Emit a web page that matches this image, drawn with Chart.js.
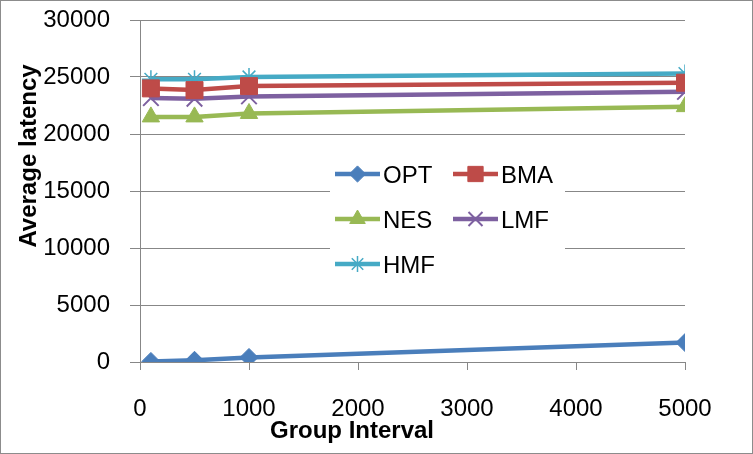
<!DOCTYPE html>
<html>
<head>
<meta charset="utf-8">
<script src="https://cdn.jsdelivr.net/npm/chart.js@4/dist/chart.umd.min.js"></script>
<style>
  html,body{margin:0;padding:0;background:#fff;}
  #wrap{position:relative;width:753px;height:454px;}
</style>
</head>
<body>
<div id="wrap"><canvas id="chart"></canvas></div>
<script>
/* ===== Data ===== */
const groupIntervals = [100, 500, 1000, 5000];
const seriesNames = ['OPT', 'BMA', 'NES', 'LMF', 'HMF'];
const optLatency = [50, 150, 400, 1700];
const bmaLatency = [24000, 23850, 24200, 24500];
const nesLatency = [21500, 21500, 21800, 22400];
const lmfLatency = [23150, 23100, 23300, 23700];
const hmfLatency = [24800, 24800, 25000, 25300];
const xTicks = [0, 1000, 2000, 3000, 4000, 5000];
const yTicks = [0, 5000, 10000, 15000, 20000, 25000, 30000];

/* ===== Style ===== */
const FONT = '"Liberation Sans", Arial, sans-serif';
const GRID = '#878787';
const styles = {
  OPT:{color:'#4a7ebb', point:'rectRot', r:9,  bw:1},
  BMA:{color:'#be4b48', point:'rect',    r:12, bw:1},
  NES:{color:'#98b954', point:'triangle',r:10, bw:1},
  LMF:{color:'#7d60a0', point:'crossRot',r:11, bw:2},
  HMF:{color:'#46aac5', point:'star',    r:9,  bw:1.5}
};
const values = {OPT:optLatency, BMA:bmaLatency, NES:nesLatency, LMF:lmfLatency, HMF:hmfLatency};

function toPoints(arr){ return groupIntervals.map((x,i)=>({x, y:arr[i]})); }

const datasets = seriesNames.map(n=>{
  const s = styles[n];
  return {
    label:n, data:toPoints(values[n]),
    borderColor:s.color, backgroundColor:s.color,
    borderWidth:4.5,
    pointStyle:s.point, pointRadius:s.r, pointHoverRadius:s.r,
    pointBorderWidth:s.bw, pointBackgroundColor:s.color, pointBorderColor:s.color,
    tension:0
  };
});

/* ===== Plugins: frame, axis titles, legend box ===== */
const frame = {
  id:'frame',
  beforeDraw(chart){
    const c = chart.ctx;
    c.save();
    c.fillStyle='#fff'; c.fillRect(0,0,chart.width,chart.height);
    c.strokeStyle='#8c8c8c'; c.lineWidth=1;
    c.strokeRect(0.5,0.5,chart.width-1,chart.height-1);
    c.restore();
  },
  afterDraw(chart){
    const c = chart.ctx;
    c.save();
    c.fillStyle='#000';
    c.font='bold 24px '+FONT;
    c.textAlign='center'; c.textBaseline='middle';
    c.fillText('Group Interval', 352, 431);
    c.translate(29, 156); c.rotate(-Math.PI/2);
    c.fillText('Average latency', 0, 0);
    c.restore();
  }
};

const boxLegend = {
  id:'boxLegend',
  afterDraw(chart){
    const c = chart.ctx;
    const cols = [335, 453], rows = [174, 219, 264], lineLen = 45;
    c.save();
    c.fillStyle='#fff';
    c.fillRect(330, 150, 235, 140);
    seriesNames.forEach((n,i)=>{
      const s = styles[n];
      const x0 = cols[i%2], y = rows[Math.floor(i/2)];
      c.strokeStyle=s.color; c.fillStyle=s.color;
      c.lineWidth=4.5; c.lineCap='butt';
      c.beginPath(); c.moveTo(x0,y); c.lineTo(x0+lineLen,y); c.stroke();
      c.lineWidth=s.bw;
      Chart.helpers.drawPoint(c,{pointStyle:s.point, radius:s.r*0.9, rotation:0, borderWidth:s.bw}, x0+lineLen/2, y);
      c.fillStyle='#000';
      c.font='24px '+FONT;
      c.textAlign='left'; c.textBaseline='middle';
      c.fillText(n, x0+lineLen+3, y+2);
    });
    c.restore();
  }
};

/* ===== Chart ===== */
new Chart(document.getElementById('chart'),{
  type:'line',
  data:{datasets},
  options:{
    responsive:true, maintainAspectRatio:false, animation:false,
    layout:{padding:{top:20, right:68, bottom:0, left:0}},
    plugins:{legend:{display:false}, tooltip:{enabled:false}},
    scales:{
      x:{
        type:'linear', min:0, max:5000,
        afterBuildTicks(ax){ ax.ticks = xTicks.map(v=>({value:v})); },
        afterFit(ax){ ax.height = 92; ax.paddingLeft = 0; ax.paddingRight = 0; },
        ticks:{font:{family:FONT, size:24}, color:'#000', padding:25, maxRotation:0,
               callback:v=>String(v)},
        grid:{drawOnChartArea:false, color:GRID, tickLength:8},
        border:{color:GRID, width:1}
      },
      y:{
        min:0, max:30000,
        afterBuildTicks(ax){ ax.ticks = yTicks.map(v=>({value:v})); },
        afterFit(ax){ ax.width = 140; ax.paddingTop = 0; ax.paddingBottom = 0; },
        ticks:{font:{family:FONT, size:24}, color:'#000', padding:20,
               callback:v=>String(v)},
        grid:{color:GRID, tickLength:10},
        border:{color:GRID, width:1}
      }
    }
  },
  plugins:[frame, boxLegend]
});
</script>
</body>
</html>
